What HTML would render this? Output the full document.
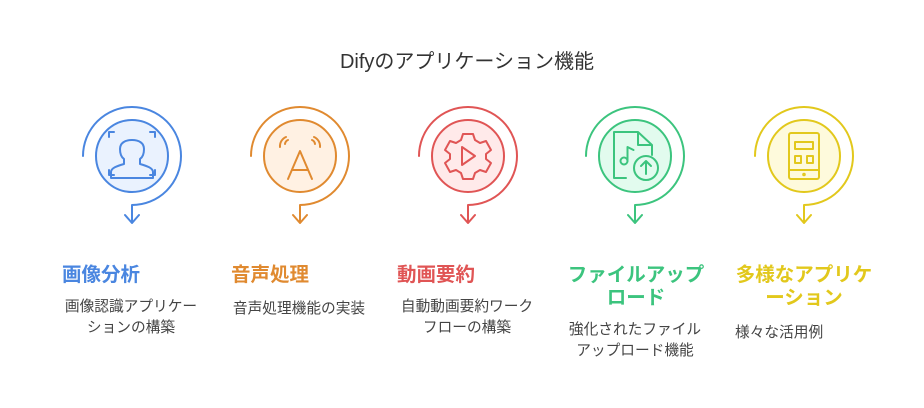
<!DOCTYPE html>
<html><head><meta charset="utf-8"><style>
html,body{margin:0;padding:0;background:#fff;}
body{width:924px;height:408px;position:relative;overflow:hidden;font-family:"Liberation Sans","Noto Sans CJK JP",sans-serif;}
.t{position:absolute;white-space:nowrap;}
.title{left:5px;width:924px;text-align:center;top:45px;font-size:20px;color:#333;}
.h{font-size:19.5px;font-weight:bold;line-height:23px;}
.d{font-size:14.7px;color:#444;line-height:21px;text-align:center;width:180px;}
</style></head><body>
<div class="t title">Difyのアプリケーション機能</div>
<svg width="924" height="408" style="position:absolute;left:0;top:0" fill="none" stroke-width="2" stroke-linecap="round" stroke-linejoin="round">
<g stroke="#4a86e0">
<circle cx="132" cy="156" r="36" fill="#eaf2fe"/>
<path d="M83 156 A49 49 0 1 1 132 205 L132 223 M125 215 L132 223 L139 215"/>
<path d="M109 137v-5h5 M150 132h5v5 M109 170v5h5 M150 175h5v-5"/>
<path d="M111 178v-6c0-4 6-6 13-8v-5c-3-2-4-6-4-10 0-6 5-9 12-9s12 3 12 9c0 4-1 8-4 10v5c7 2 13 4 13 8v6z"/>
</g>
<g stroke="#e08a30">
<circle cx="300" cy="156" r="36" fill="#fff1e3"/>
<path d="M251 156 A49 49 0 1 1 300 205 L300 223 M293 215 L300 223 L307 215"/>
<path d="M288 179 L300 151 L312 179 M292 170h16"/>
<path d="M280 147a10 10 0 0 1 6-10 M285 144a5 5 0 0 1 3-4 M320 147a10 10 0 0 0-6-10 M315 144a5 5 0 0 0-3-4"/>
</g>
<g stroke="#e05555">
<circle cx="468" cy="156" r="36" fill="#ffeaea"/>
<path d="M419 156 A49 49 0 1 1 468 205 L468 223 M461 215 L468 223 L475 215"/>
<path d="M463 134h10l2 6 5 3 6-2 5 9-5 4v5l5 4-5 9-6-2-5 3-2 6h-10l-2-6-5-3-6 2-5-9 5-4v-5l-5-4 5-9 6 2 5-3z"/>
<path d="M462 147v18l13-9z"/>
</g>
<g stroke="#3cc47e">
<circle cx="635" cy="156" r="36" fill="#e2fbee"/>
<path d="M586 156 A49 49 0 1 1 635 205 L635 223 M628 215 L635 223 L642 215"/>
<path d="M626 178h-12v-46h24l14 13v10 M638 132v13h14"/>
<circle cx="646" cy="168" r="12"/>
<path d="M646 174v-12 M641 166l5-5 5 5"/>
<circle cx="624" cy="161" r="3.5"/><path d="M627.5 161v-14l6 3"/>
</g>
<g stroke="#e2c81c">
<circle cx="804" cy="156" r="36" fill="#fefadc"/>
<path d="M755 156 A49 49 0 1 1 804 205 L804 223 M797 215 L804 223 L811 215"/>
<rect x="789" y="133" width="30" height="46" rx="2"/>
<path d="M789 170h30"/>
<rect x="795" y="142" width="18" height="7"/>
<rect x="795" y="156" width="6" height="7"/>
<rect x="807" y="156" width="6" height="7"/>
<circle cx="804" cy="174.5" r="0.8"/>
</g>
</svg>
<div class="t h" style="left:62px;top:264px;color:#4a86e0">画像分析</div>
<div class="t d" style="left:41px;top:297px;">画像認識アプリケー<br>ションの構築</div>
<div class="t h" style="left:231px;top:264px;color:#e08a30">音声処理</div>
<div class="t d" style="left:209px;top:299px;">音声処理機能の実装</div>
<div class="t h" style="left:397px;top:264px;color:#e05555">動画要約</div>
<div class="t d" style="left:377px;top:297px;">自動動画要約ワーク<br>フローの構築</div>
<div class="t h" style="left:546px;width:180px;text-align:center;top:264px;color:#3cc47e">ファイルアップ<br>ロード</div>
<div class="t d" style="left:545px;top:320px;">強化されたファイル<br>アップロード機能</div>
<div class="t h" style="left:714px;width:180px;text-align:center;top:264px;color:#e2c81c">多様なアプリケ<br>ーション</div>
<div class="t d" style="left:735px;top:323px;text-align:left;width:auto;">様々な活用例</div>
</body></html>
